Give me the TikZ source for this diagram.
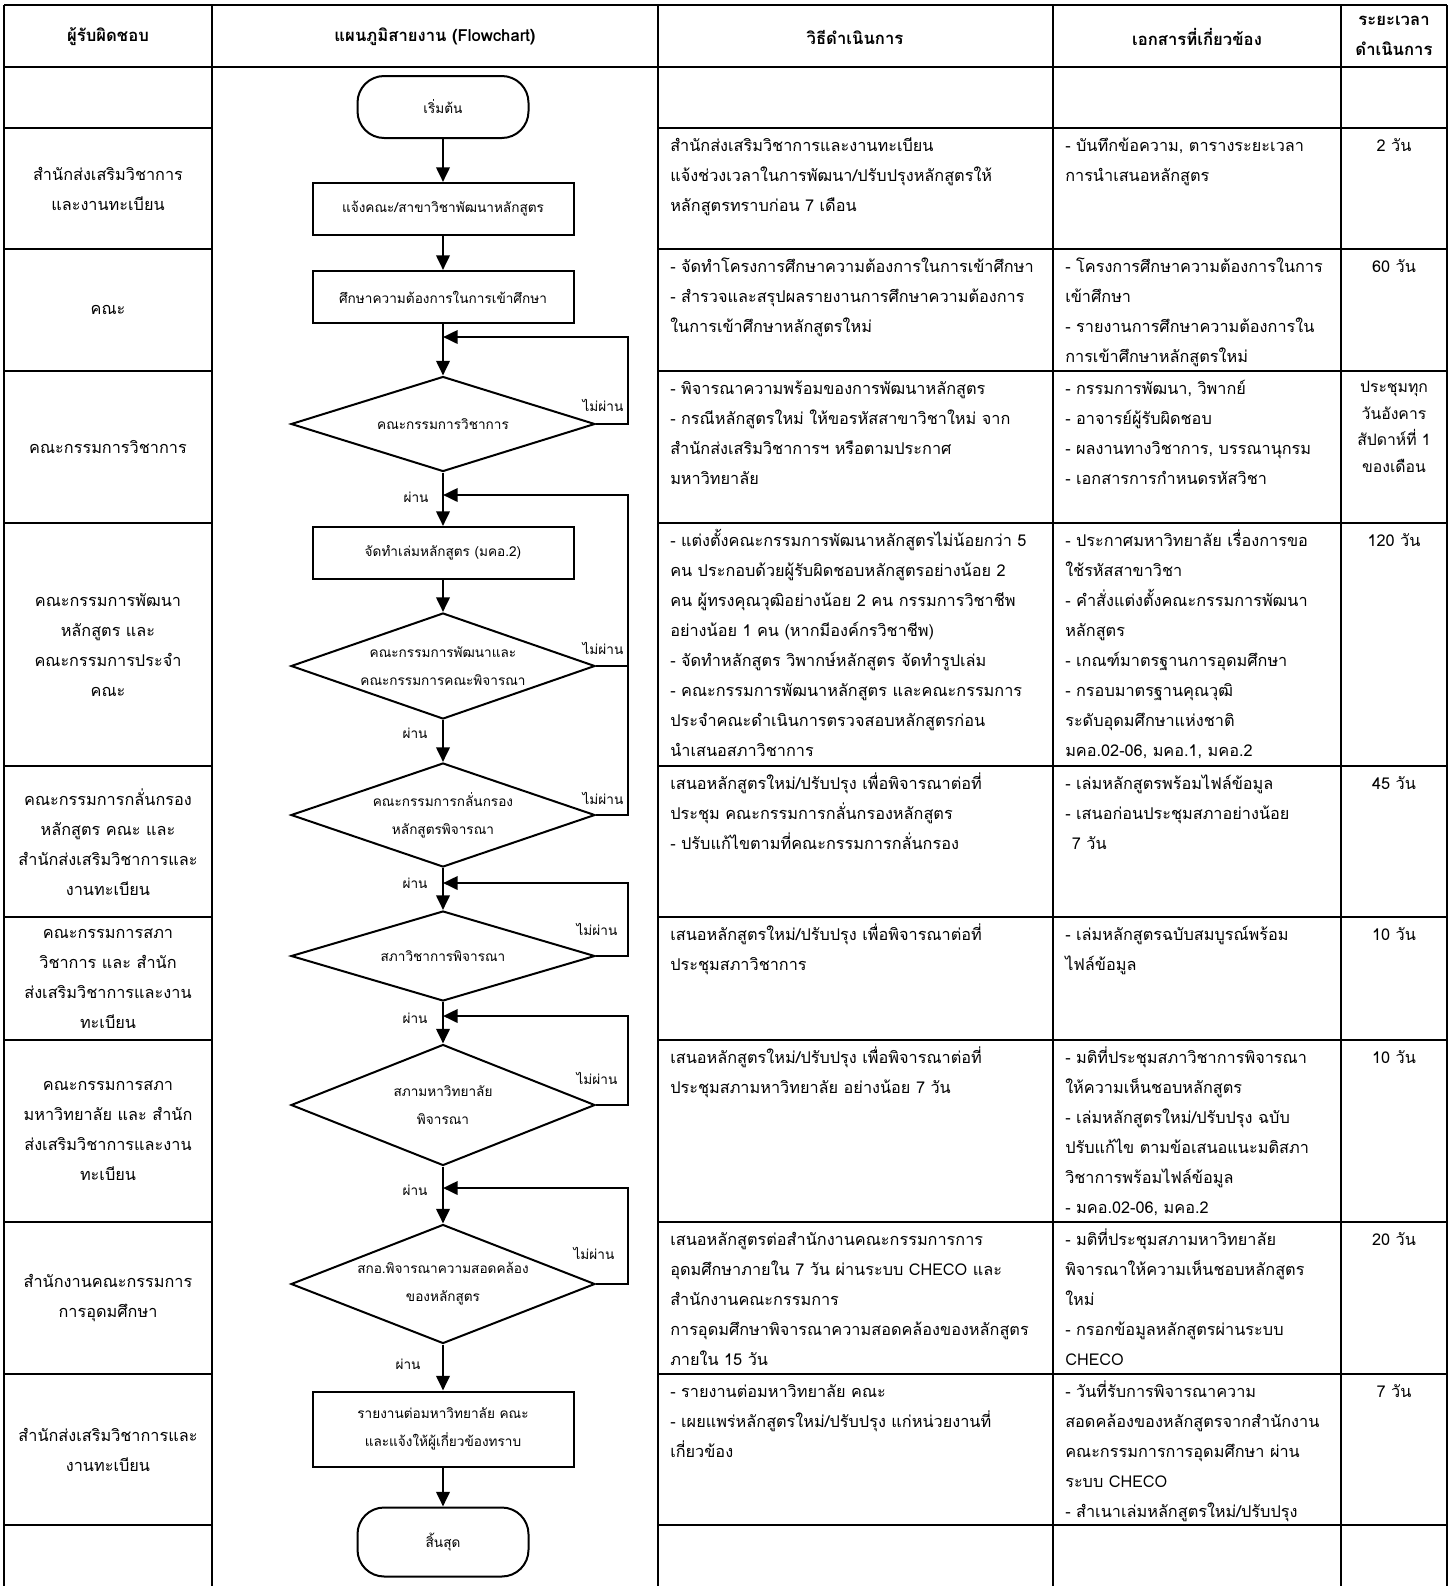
\documentclass[tikz,border=0pt]{standalone}
\usepackage{fontspec}
\usetikzlibrary{arrows.meta,shapes.geometric,calc}
\newfontfamily\thai[Script=Thai]{Loma}
\newcommand\pu{0.75pt}
\newcommand\cellfont{\thai\fontsize{12.2}{22.5}\selectfont}
\newcommand\smallcell{\thai\fontsize{11.8}{20}\selectfont}
\newcommand\flowfont{\thai\fontsize{10.2}{21}\selectfont}
\newcommand\hdrfont{\thai\bfseries\fontsize{12.5}{23}\selectfont}
\newcommand\st{\rule{0pt}{16pt}}
\tikzset{
  grid/.style={line width=1.8pt},
  shp/.style={draw, line width=1.5pt, inner sep=0pt, font=\flowfont, align=center},
  proc/.style={shp, rectangle, minimum width=261*\pu, minimum height=52*\pu},
  term/.style={shp, rectangle, rounded corners=20pt, minimum width=171*\pu, minimum height=62*\pu},
  dia/.style={shp, diamond, minimum width=304*\pu},
  dtext/.style={font=\flowfont, align=center, inner sep=0pt},
  flow/.style={line width=2pt, -{Triangle[length=11pt,width=10pt]}},
  link/.style={line width=2pt},
  lbl/.style={font=\flowfont, inner sep=0pt},
  c1/.style={font=\cellfont, align=center, inner sep=0pt},
  c3/.style={font=\cellfont, align=left, anchor=north west, inner sep=0pt},
  c5/.style={font=\cellfont, align=center, anchor=north, inner sep=0pt},
  hdr/.style={font=\hdrfont, align=center, inner sep=0pt},
}
\begin{document}
\begin{tikzpicture}[x=0.75pt,y=-0.75pt]
\useasboundingbox (0,0) rectangle (1453,1586);
% ---------- table grid ----------
\draw[grid] (4,5) -- (1447,5);
\draw[grid] (4,67) -- (1447,67);
\foreach \y in {128,249,371,523,766,917,1040,1222,1374,1525}{
  \draw[grid] (4,\y) -- (212,\y);
  \draw[grid] (658,\y) -- (1447,\y);
}
\foreach \x in {4,212,658,1053,1341,1447}{\draw[grid] (\x,5) -- (\x,1586);}
% ---------- header ----------
\node[hdr] (h1) at (108,37) {ผู้รับผิดชอบ};
\node[hdr] (h2) at (435,37) {แผนภูมิสายงาน (Flowchart)};
\node[hdr] (h3) at (855,37) {วิธีดำเนินการ};
\node[hdr] (h4) at (1197,37) {เอกสารที่เกี่ยวข้อง};
\node[hdr] (h5) at (1394,36) {ระยะเวลา\\ดำเนินการ};
% ---------- column 1 ----------
\node[c1] (a1) at (108,189) {สำนักส่งเสริมวิชาการ\\และงานทะเบียน};
\node[c1] (a2) at (108,310) {คณะ};
\node[c1] (a3) at (108,447) {คณะกรรมการวิชาการ};
\node[c1] (a4) at (108,645) {คณะกรรมการพัฒนา\\หลักสูตร และ\\คณะกรรมการประจำ\\คณะ};
\node[c1] (a5) at (108,842) {คณะกรรมการกลั่นกรอง\\หลักสูตร คณะ และ\\สำนักส่งเสริมวิชาการและ\\งานทะเบียน};
\node[c1] (a6) at (108,979) {คณะกรรมการสภา\\วิชาการ และ สำนัก\\ส่งเสริมวิชาการและงาน\\ทะเบียน};
\node[c1] (a7) at (108,1131) {คณะกรรมการสภา\\มหาวิทยาลัย และ สำนัก\\ส่งเสริมวิชาการและงาน\\ทะเบียน};
\node[c1] (a8) at (108,1298) {สำนักงานคณะกรรมการ\\การอุดมศึกษา};
\node[c1] (a9) at (108,1450) {สำนักส่งเสริมวิชาการและ\\งานทะเบียน};
% ---------- column 3 ----------
\node[c3] (m1) at (670,130) {\st สำนักส่งเสริมวิชาการและงานทะเบียน\\แจ้งช่วงเวลาในการพัฒนา/ปรับปรุงหลักสูตรให้\\หลักสูตรทราบก่อน 7 เดือน};
\node[c3] (m2) at (670,251) {\st - จัดทำโครงการศึกษาความต้องการในการเข้าศึกษา\\- สำรวจและสรุปผลรายงานการศึกษาความต้องการ\\ในการเข้าศึกษาหลักสูตรใหม่};
\node[c3] (m3) at (670,373) {\st - พิจารณาความพร้อมของการพัฒนาหลักสูตร\\- กรณีหลักสูตรใหม่ ให้ขอรหัสสาขาวิชาใหม่ จาก\\สำนักส่งเสริมวิชาการฯ หรือตามประกาศ\\มหาวิทยาลัย};
\node[c3] (m4) at (670,525) {\st - แต่งตั้งคณะกรรมการพัฒนาหลักสูตรไม่น้อยกว่า 5\\คน ประกอบด้วยผู้รับผิดชอบหลักสูตรอย่างน้อย 2\\คน ผู้ทรงคุณวุฒิอย่างน้อย 2 คน กรรมการวิชาชีพ\\อย่างน้อย 1 คน (หากมีองค์กรวิชาชีพ)\\- จัดทำหลักสูตร วิพากษ์หลักสูตร จัดทำรูปเล่ม\\- คณะกรรมการพัฒนาหลักสูตร และคณะกรรมการ\\ประจำคณะดำเนินการตรวจสอบหลักสูตรก่อน\\นำเสนอสภาวิชาการ};
\node[c3] (m5) at (670,768) {\st เสนอหลักสูตรใหม่/ปรับปรุง เพื่อพิจารณาต่อที่\\ประชุม คณะกรรมการกลั่นกรองหลักสูตร\\- ปรับแก้ไขตามที่คณะกรรมการกลั่นกรอง};
\node[c3] (m6) at (670,919) {\st เสนอหลักสูตรใหม่/ปรับปรุง เพื่อพิจารณาต่อที่\\ประชุมสภาวิชาการ};
\node[c3] (m7) at (670,1042) {\st เสนอหลักสูตรใหม่/ปรับปรุง เพื่อพิจารณาต่อที่\\ประชุมสภามหาวิทยาลัย อย่างน้อย 7 วัน};
\node[c3] (m8) at (670,1224) {\st เสนอหลักสูตรต่อสำนักงานคณะกรรมการการ\\อุดมศึกษาภายใน 7 วัน ผ่านระบบ CHECO และ\\สำนักงานคณะกรรมการ\\การอุดมศึกษาพิจารณาความสอดคล้องของหลักสูตร\\ภายใน 15 วัน};
\node[c3] (m9) at (670,1376) {\st - รายงานต่อมหาวิทยาลัย คณะ\\- เผยแพร่หลักสูตรใหม่/ปรับปรุง แก่หน่วยงานที่\\เกี่ยวข้อง};
% ---------- column 4 ----------
\node[c3] (e1) at (1065,130) {\st - บันทึกข้อความ, ตารางระยะเวลา\\การนำเสนอหลักสูตร};
\node[c3] (e2) at (1065,251) {\st - โครงการศึกษาความต้องการในการ\\เข้าศึกษา\\- รายงานการศึกษาความต้องการใน\\การเข้าศึกษาหลักสูตรใหม่};
\node[c3] (e3) at (1065,373) {\st - กรรมการพัฒนา, วิพากย์\\- อาจารย์ผู้รับผิดชอบ\\- ผลงานทางวิชาการ, บรรณานุกรม\\- เอกสารการกำหนดรหัสวิชา};
\node[c3] (e4) at (1065,525) {\st - ประกาศมหาวิทยาลัย เรื่องการขอ\\ใช้รหัสสาขาวิชา\\- คำสั่งแต่งตั้งคณะกรรมการพัฒนา\\หลักสูตร\\- เกณฑ์มาตรฐานการอุดมศึกษา\\- กรอบมาตรฐานคุณวุฒิ\\ระดับอุดมศึกษาแห่งชาติ\\มคอ.02-06, มคอ.1, มคอ.2};
\node[c3] (e5) at (1065,768) {\st - เล่มหลักสูตรพร้อมไฟล์ข้อมูล\\- เสนอก่อนประชุมสภาอย่างน้อย\\\hspace{5pt}7 วัน};
\node[c3] (e6) at (1065,919) {\st - เล่มหลักสูตรฉบับสมบูรณ์พร้อม\\ไฟล์ข้อมูล};
\node[c3] (e7) at (1065,1042) {\st - มติที่ประชุมสภาวิชาการพิจารณา\\ให้ความเห็นชอบหลักสูตร\\- เล่มหลักสูตรใหม่/ปรับปรุง ฉบับ\\ปรับแก้ไข ตามข้อเสนอแนะมติสภา\\วิชาการพร้อมไฟล์ข้อมูล\\- มคอ.02-06, มคอ.2};
\node[c3] (e8) at (1065,1224) {\st - มติที่ประชุมสภามหาวิทยาลัย\\พิจารณาให้ความเห็นชอบหลักสูตร\\ใหม่\\- กรอกข้อมูลหลักสูตรผ่านระบบ\\CHECO};
\node[c3] (e9) at (1065,1376) {\st - วันที่รับการพิจารณาความ\\สอดคล้องของหลักสูตรจากสำนักงาน\\คณะกรรมการการอุดมศึกษา ผ่าน\\ระบบ CHECO\\- สำเนาเล่มหลักสูตรใหม่/ปรับปรุง};
% ---------- column 5 ----------
\node[c5] (t1) at (1394,130) {\st 2 วัน};
\node[c5] (t2) at (1394,251) {\st 60 วัน};
\node[c5,font=\smallcell] (t3) at (1394,371) {\st ประชุมทุก\\วันอังคาร\\สัปดาห์ที่ 1\\ของเดือน};
\node[c5] (t4) at (1394,525) {\st 120 วัน};
\node[c5] (t5) at (1394,768) {\st 45 วัน};
\node[c5] (t6) at (1394,919) {\st 10 วัน};
\node[c5] (t7) at (1394,1042) {\st 10 วัน};
\node[c5] (t8) at (1394,1224) {\st 20 วัน};
\node[c5] (t9) at (1394,1376) {\st 7 วัน};
% ---------- flowchart ----------
\coordinate (lx) at (628,0);
\node[term] (start) at (443,107) {เริ่มต้น};
\node[proc] (b1) at (443,209) {แจ้งคณะ/สาขาวิชาพัฒนาหลักสูตร};
\node[proc] (b2) at (443,297) {ศึกษาความต้องการในการเข้าศึกษา};
\coordinate (j1) at (443,337);
\node[dia, minimum height=95*\pu, label={[dtext]center:คณะกรรมการวิชาการ}] (d1) at (443,424) {};
\coordinate (j2) at (443,495);
\node[proc] (b3) at (443,553) {จัดทำเล่มหลักสูตร (มคอ.2)};
\node[dia, minimum height=106*\pu, label={[dtext]center:{คณะกรรมการพัฒนาและ\\คณะกรรมการคณะพิจารณา}}] (d2) at (443,666) {};
\node[dia, minimum height=104*\pu, label={[dtext]center:{คณะกรรมการกลั่นกรอง\\หลักสูตรพิจารณา}}] (d3) at (443,815) {};
\coordinate (j3) at (443,883);
\node[dia, minimum height=90*\pu, label={[dtext]center:สภาวิชาการพิจารณา}] (d4) at (443,956) {};
\coordinate (j4) at (443,1016);
\node[dia, minimum height=121*\pu, label={[dtext]center:{สภามหาวิทยาลัย\\พิจารณา}}] (d5) at (443,1105) {};
\coordinate (j5) at (443,1188);
\node[dia, minimum height=119*\pu, label={[dtext]center:{สกอ.พิจารณาความสอดคล้อง\\ของหลักสูตร}}] (d6) at (443,1284) {};
\node[proc, minimum height=75*\pu] (b4) at (443,1429) {รายงานต่อมหาวิทยาลัย คณะ\\และแจ้งให้ผู้เกี่ยวข้องทราบ};
\node[term, minimum height=69*\pu] (stop) at (443,1542) {สิ้นสุด};
% main flow
\draw[flow] (start) -- (b1);
\draw[flow] (b1) -- (b2);
\draw[flow] (b2) -- (d1);
\draw[flow] (d1) -- (b3);
\draw[flow] (b3) -- (d2);
\draw[flow] (d2) -- (d3);
\draw[flow] (d3) -- (d4);
\draw[flow] (d4) -- (d5);
\draw[flow] (d5) -- (d6);
\draw[flow] (d6) -- (b4);
\draw[flow] (b4) -- (stop);
% loops back
\draw[flow] (d1.east) -- (d1.east -| lx) |- (j1);
\draw[link] (d2.east) -- (d2.east -| lx);
\draw[flow] (d3.east) -- (d3.east -| lx) |- (j2);
\draw[flow] (d4.east) -- (d4.east -| lx) |- (j3);
\draw[flow] (d5.east) -- (d5.east -| lx) |- (j4);
\draw[flow] (d6.east) -- (d6.east -| lx) |- (j5);
% labels
\node[lbl] (n1) at (603,405) {ไม่ผ่าน};
\node[lbl] (n2) at (603,648) {ไม่ผ่าน};
\node[lbl] (n3) at (603,798) {ไม่ผ่าน};
\node[lbl] (n4) at (597,929) {ไม่ผ่าน};
\node[lbl] (n5) at (597,1078) {ไม่ผ่าน};
\node[lbl] (n6) at (594,1253) {ไม่ผ่าน};
\node[lbl] (p1) at (416,497) {ผ่าน};
\node[lbl] (p2) at (415,733) {ผ่าน};
\node[lbl] (p3) at (415,883) {ผ่าน};
\node[lbl] (p4) at (415,1018) {ผ่าน};
\node[lbl] (p5) at (415,1190) {ผ่าน};
\node[lbl] (p6) at (408,1364) {ผ่าน};
\end{tikzpicture}
\end{document}
